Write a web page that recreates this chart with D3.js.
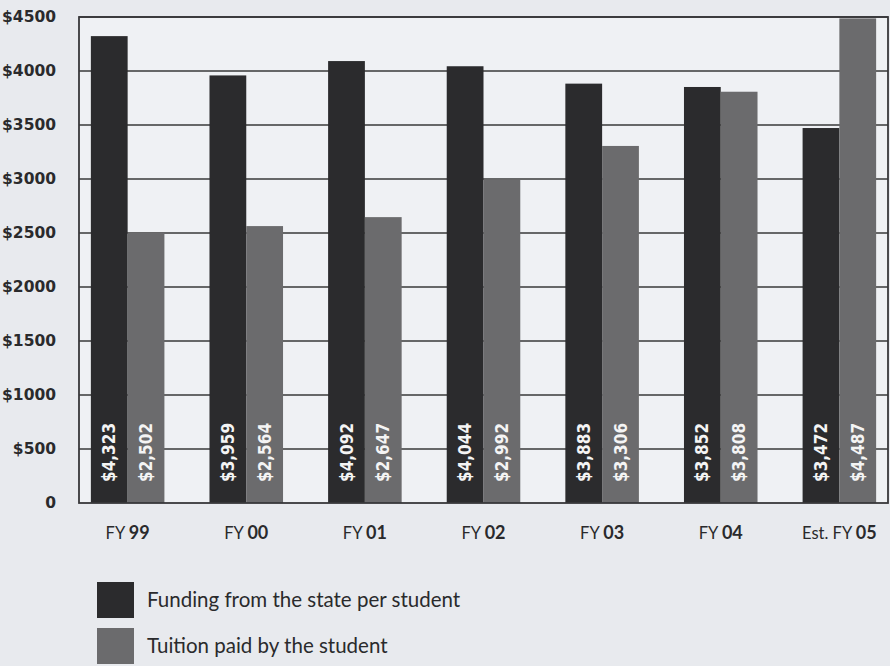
<!DOCTYPE html>
<html>
<head>
<meta charset="utf-8">
<script src="https://cdn.jsdelivr.net/npm/d3@7"></script>
<style>
  html, body { margin: 0; padding: 0; background: #e8eaee; }
  svg { display: block; }
</style>
</head>
<body>
<svg id="chart" width="890" height="666"></svg>
<script>
const categories = ["99", "00", "01", "02", "03", "04", "05"];
const categoryPrefixes = ["FY ", "FY ", "FY ", "FY ", "FY ", "FY ", "Est. FY "];
const stateFunding = [4323, 3959, 4092, 4044, 3883, 3852, 3472];
const tuitionPaid = [2502, 2564, 2647, 2992, 3306, 3808, 4487];
const seriesNames = ["Funding from the state per student", "Tuition paid by the student"];
const yTicks = [0, 500, 1000, 1500, 2000, 2500, 3000, 3500, 4000, 4500];

const colors = ["#2b2b2d", "#6b6b6d"];

const svg = d3.select("#chart");
const pLeft = 79, pRight = 888, pTop = 17, pBottom = 503;

const x = d3.scaleBand().domain(categories).range([pLeft, pRight]).paddingInner(0.38).paddingOuter(0.1);
const xs = d3.scaleBand().domain([0, 1]).range([0, x.bandwidth()]);
const y = d3.scaleLinear().domain([0, 4500]).range([pBottom, pTop]);

// plot background
svg.append("rect").attr("x", pLeft).attr("y", pTop).attr("width", pRight - pLeft).attr("height", pBottom - pTop)
  .attr("fill", "#eff1f4");

// gridlines
svg.append("g").selectAll("line").data(yTicks.filter(d => d > 0)).join("line")
  .attr("x1", pLeft).attr("x2", pRight)
  .attr("y1", d => y(d)).attr("y2", d => y(d))
  .attr("stroke", "#38383a").attr("stroke-width", 1.6);

// bars
const series = [stateFunding, tuitionPaid];
const groups = svg.append("g").selectAll("g").data(categories).join("g")
  .attr("transform", d => `translate(${x(d)},0)`);

groups.each(function(c, i) {
  const g = d3.select(this);
  series.forEach((s, k) => {
    g.append("rect")
      .attr("x", xs(k)).attr("width", xs.bandwidth())
      .attr("y", y(s[i])).attr("height", y(0) - y(s[i]))
      .attr("fill", colors[k]);
    const cx = xs(k) + xs.bandwidth() / 2;
    g.append("text")
      .attr("transform", `translate(${cx},${y(0) - 21}) rotate(-90)`)
      .attr("dy", "0.36em")
      .attr("text-anchor", "start")
      .attr("fill", "#f4f4f4")
      .attr("font-family", "'DejaVu Sans Condensed', 'DejaVu Sans', sans-serif")
      .attr("font-weight", "bold")
      .attr("font-size", 17)
      .text("$" + d3.format(",")(s[i]));
  });
});

// frame
svg.append("rect").attr("x", pLeft).attr("y", pTop).attr("width", pRight - pLeft).attr("height", pBottom - pTop)
  .attr("fill", "none").attr("stroke", "#38383a").attr("stroke-width", 1.8);

// y axis labels
const yAxis = d3.axisLeft(y).tickValues(yTicks).tickSize(0).tickPadding(0)
  .tickFormat(d => d === 0 ? "0" : "$" + d);
const ya = svg.append("g").attr("transform", `translate(56,0)`).call(yAxis);
ya.select(".domain").remove();
ya.selectAll("text")
  .attr("fill", "#2a2a2c")
  .attr("font-family", "'DejaVu Sans', sans-serif")
  .attr("font-weight", "bold")
  .attr("font-size", 15.5);

// x axis labels
const xAxis = d3.axisBottom(x).tickSize(0).tickPadding(0).tickFormat("");
const xa = svg.append("g").attr("transform", `translate(0,${pBottom})`).call(xAxis);
xa.select(".domain").remove();
xa.selectAll(".tick").each(function(d, i) {
  const t = d3.select(this).append("text")
    .attr("y", 36)
    .attr("text-anchor", "middle")
    .attr("fill", "#2a2a2c")
    .attr("font-family", "'Lato', sans-serif")
    .attr("font-size", 16.5);
  t.append("tspan").text(categoryPrefixes[i]);
  t.append("tspan").attr("font-weight", "bold").attr("font-size", 18).text(d);
});

// legend
const legend = svg.append("g").attr("transform", "translate(97,582)");
seriesNames.forEach((name, k) => {
  const g = legend.append("g").attr("transform", `translate(0,${k * 46})`);
  g.append("rect").attr("width", 37).attr("height", 36).attr("fill", colors[k]);
  g.append("text").attr("x", 50).attr("y", 25)
    .attr("fill", "#2a2a2c")
    .attr("font-family", "'Lato', sans-serif")
    .attr("font-size", 20.5)
    .text(name);
});
</script>
</body>
</html>
